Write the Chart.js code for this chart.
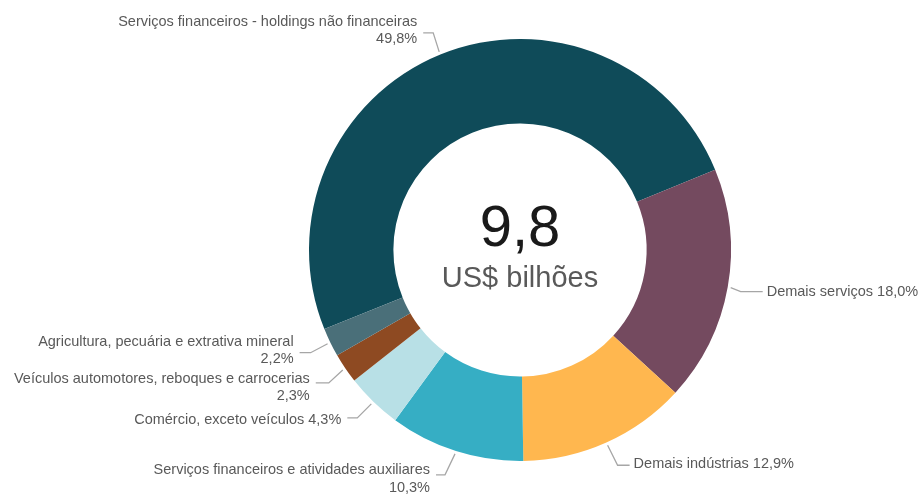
<!DOCTYPE html>
<html>
<head>
<meta charset="utf-8">
<script src="https://cdn.jsdelivr.net/npm/chart.js@4"></script>
<style>
  html, body { margin: 0; padding: 0; background: #fff; }
  #wrap { width: 920px; height: 495px; position: relative; }
</style>
</head>
<body>
<div id="wrap"><canvas id="setores"></canvas></div>
<script>
var labels = [
  ["Serviços financeiros - holdings não financeiras", "49,8%"],
  ["Demais serviços 18,0%"],
  ["Demais indústrias 12,9%"],
  ["Serviços financeiros e atividades auxiliares", "10,3%"],
  ["Comércio, exceto veículos 4,3%"],
  ["Veículos automotores, reboques e carrocerias", "2,3%"],
  ["Agricultura, pecuária e extrativa mineral", "2,2%"]
];
var shares = [49.8, 18.0, 12.9, 10.3, 4.3, 2.3, 2.2];
var colors = ["#0f4b59", "#744a5f", "#ffb74f", "#36aec4", "#b8e0e6", "#8e4a22", "#4a6f79"];
var total = "9,8";
var unit = "US$ bilhões";

// leader line layout: elbow offset from slice edge, horizontal run, side, text offsets
var leaders = [
  { dx: -6, dy: -19, run: 10, side: "left", ty: [-11, 6] },
  { dx: 10, dy: 4, run: 22, side: "right", ty: [0] },
  { dx: 10, dy: 20, run: 12, side: "right", ty: [-1] },
  { dx: -10, dy: 21, run: 9, side: "left", ty: [-5, 13] },
  { dx: -14, dy: 14, run: 10, side: "left", ty: [2] },
  { dx: -14, dy: 13, run: 13, side: "left", ty: [-4, 13] },
  { dx: -17, dy: 9, run: 11, side: "left", ty: [-11, 6] }
];

var labelPlugin = {
  id: "labelPlugin",
  afterDraw: function(chart) {
    var ctx = chart.ctx;
    var meta = chart.getDatasetMeta(0);
    ctx.save();
    meta.data.forEach(function(arc, i) {
      var mid = (arc.startAngle + arc.endAngle) / 2;
      var r = arc.outerRadius + 3;
      var x0 = arc.x + Math.cos(mid) * r;
      var y0 = arc.y + Math.sin(mid) * r;
      var L = leaders[i];
      var x1 = x0 + L.dx, y1 = y0 + L.dy;
      var x2 = L.side === "left" ? x1 - L.run : x1 + L.run;
      ctx.strokeStyle = "#a6a6a6";
      ctx.lineWidth = 1.3;
      ctx.beginPath();
      ctx.moveTo(x0, y0);
      ctx.lineTo(x1, y1);
      ctx.lineTo(x2, y1);
      ctx.stroke();
      ctx.fillStyle = "#595959";
      ctx.font = "14.5px 'Liberation Sans', Arial, sans-serif";
      ctx.textBaseline = "middle";
      ctx.textAlign = L.side === "left" ? "right" : "left";
      var tx = L.side === "left" ? x2 - 6 : x2 + 4;
      labels[i].forEach(function(line, j) {
        ctx.fillText(line, tx, y1 + L.ty[j]);
      });
    });
    var a = meta.data[0];
    ctx.textAlign = "center";
    ctx.textBaseline = "middle";
    ctx.fillStyle = "#1a1a1a";
    ctx.font = "58px 'Liberation Sans', Arial, sans-serif";
    ctx.fillText(total, a.x, a.y - 20);
    ctx.fillStyle = "#595959";
    ctx.font = "29px 'Liberation Sans', Arial, sans-serif";
    ctx.fillText(unit, a.x, a.y + 29);
    ctx.restore();
  }
};

var ctx = document.getElementById("setores");
var myChart = new Chart(ctx, {
  type: 'doughnut',
  data: {
    labels: labels.map(function(l) { return l.join(" "); }),
    datasets: [{
      data: shares,
      backgroundColor: colors,
      borderWidth: 0
    }]
  },
  options: {
    responsive: true,
    maintainAspectRatio: false,
    animation: false,
    rotation: -112,
    cutout: '60%',
    layout: {
      padding: { left: 309, right: 189, top: 39, bottom: 34 }
    },
    plugins: {
      legend: { display: false },
      tooltip: { enabled: false }
    }
  },
  plugins: [labelPlugin]
});
</script>
</body>
</html>
